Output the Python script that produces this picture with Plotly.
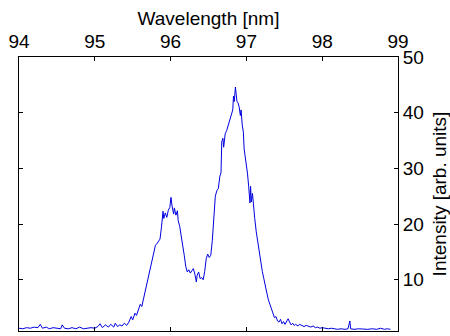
import plotly.graph_objects as go

wavelength = [
    94.00, 94.05, 94.10, 94.15, 94.20, 94.25, 94.28, 94.31, 94.36, 94.40,
    94.45, 94.50, 94.55, 94.57, 94.60, 94.65, 94.70, 94.75, 94.80, 94.85,
    94.90, 94.95, 95.00, 95.04, 95.07, 95.10, 95.14, 95.18, 95.21, 95.25,
    95.27, 95.30, 95.33, 95.36, 95.39, 95.42,
    95.45, 95.48, 95.50, 95.53, 95.55, 95.58, 95.60, 95.62, 95.65, 95.68,
    95.70, 95.73, 95.76, 95.78, 95.80, 95.82, 95.84, 95.86, 95.88, 95.90,
    95.91, 95.93, 95.95, 95.97, 95.99, 96.005, 96.02, 96.04, 96.05, 96.07,
    96.09, 96.10, 96.12, 96.14, 96.16, 96.18, 96.20, 96.22, 96.24, 96.26,
    96.28, 96.30, 96.32, 96.34, 96.35, 96.37, 96.39, 96.41, 96.43, 96.45,
    96.47, 96.49, 96.51, 96.53, 96.55, 96.57, 96.59, 96.61, 96.63, 96.65,
    96.665, 96.675, 96.69, 96.70, 96.72, 96.74, 96.76, 96.78, 96.80, 96.82,
    96.83, 96.84, 96.855, 96.865, 96.875, 96.89, 96.905, 96.92, 96.93, 96.945,
    96.96, 96.97, 96.985, 97.00, 97.015, 97.03, 97.04, 97.047, 97.055, 97.065,
    97.08, 97.09, 97.11, 97.13, 97.15, 97.17, 97.19, 97.21, 97.23, 97.25,
    97.27, 97.29, 97.31, 97.33, 97.35, 97.37, 97.39, 97.41, 97.43, 97.45,
    97.47, 97.49, 97.51, 97.53, 97.55, 97.57, 97.59, 97.61, 97.63, 97.65,
    97.68, 97.70, 97.73, 97.76, 97.79, 97.82, 97.85, 97.88, 97.91, 97.94,
    97.97, 98.00, 98.04, 98.08, 98.12, 98.16, 98.20, 98.25, 98.30, 98.34,
    98.365, 98.375, 98.42, 98.48, 98.54, 98.60, 98.66, 98.72, 98.77, 98.82,
    98.86, 98.90,
]
intensity = [
    1.3, 1.2, 1.4, 1.3, 1.5, 1.4, 2.0, 1.3, 1.5, 1.2,
    1.4, 1.3, 1.2, 1.9, 1.3, 1.2, 1.4, 1.2, 1.5, 1.2,
    1.3, 1.4, 1.3, 1.6, 2.1, 1.4, 1.9, 1.5, 2.0, 1.5,
    2.2, 1.6, 1.9, 1.7, 2.2, 1.8,
    2.4, 3.4, 2.8, 4.0, 3.6, 5.0, 5.6, 5.2, 7.0, 8.6,
    10.0, 11.6, 13.5, 15.0, 16.2, 16.5, 16.8, 17.3, 19.5, 22.3,
    21.0, 22.0, 21.2, 22.5, 23.0, 24.8, 23.2, 21.8, 22.9, 21.6,
    22.4, 20.6, 19.6, 18.0, 16.6, 14.4, 12.4, 11.4, 11.8, 11.2,
    11.6, 12.0, 11.0, 9.6, 10.8, 11.4, 10.2, 10.4, 10.0, 11.5,
    13.8, 14.6, 14.0, 14.4, 17.0, 21.0, 25.0, 26.0, 26.4, 28.6,
    29.2, 34.8, 35.4, 33.8, 36.2, 36.8, 37.8, 38.6, 39.6, 40.5,
    43.0, 42.0, 44.6, 43.5, 42.0, 41.8, 41.0, 39.5, 40.5, 37.8,
    36.5, 33.5, 32.0, 31.0, 29.0, 26.8, 25.2, 23.8, 26.8, 24.0,
    25.5, 23.6, 21.0, 18.6, 16.8, 14.4, 13.0, 11.5, 10.2, 8.6,
    7.6, 6.4, 5.6, 4.6, 4.2, 3.2, 3.4, 2.6, 2.4, 2.9,
    2.1, 2.5, 2.0, 2.6, 3.0, 2.4, 1.9, 2.2, 1.8, 2.0,
    1.7, 2.0, 1.8, 1.6, 1.8, 1.6, 1.5, 1.7, 1.4, 1.5,
    1.3, 1.4, 1.3, 1.2, 1.3, 1.2, 1.1, 1.2, 1.1, 1.2,
    2.6, 1.2, 1.1, 1.2, 1.1, 1.1, 1.2, 1.1, 1.3, 1.1,
    1.2, 1.1,
]
x_ticks = [94, 95, 96, 97, 98, 99]
y_ticks = [10, 20, 30, 40, 50]

fig = go.Figure()
fig.add_trace(go.Scatter(x=wavelength, y=intensity, mode="lines",
                         line=dict(color="#0000e0", width=1), showlegend=False))

font = dict(family="Liberation Sans, Arial, sans-serif", size=19, color="black")
fig.update_layout(
    width=450, height=336,
    margin=dict(l=19, r=52, t=57, b=5),
    paper_bgcolor="white", plot_bgcolor="white",
    font=font,
    xaxis=dict(
        side="top", range=[94, 99], tickvals=x_ticks,
        ticks="inside", ticklen=4, tickcolor="black",
        showline=True, linecolor="black", linewidth=1, mirror="ticks",
        showgrid=False, zeroline=False,
        title=dict(text="Wavelength [nm]", font=font, standoff=0),
        automargin=False,
    ),
    yaxis=dict(
        side="right", range=[0.8, 50], tickvals=y_ticks,
        ticks="inside", ticklen=4, tickcolor="black",
        showline=True, linecolor="black", linewidth=1, mirror="ticks",
        showgrid=False, zeroline=False,
        title=dict(text="Intensity [arb. units]", font=font, standoff=18),
        automargin=False,
    ),
)
fig.write_html("out.html")
